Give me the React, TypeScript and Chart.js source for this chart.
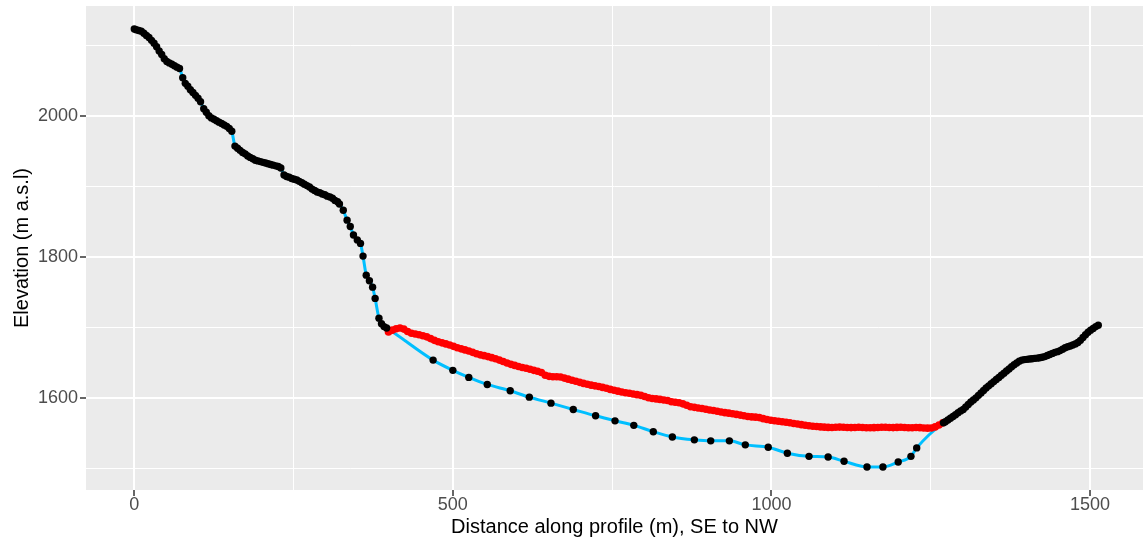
import React, { useEffect, useRef } from "react";
import { Chart, registerables } from "chart.js";

Chart.register(...registerables);

// ---------- Data ----------
// Ground surface, SE side (black points)
const leftSurfaceX = [0, 3, 7, 11, 15, 19, 23, 27, 31, 35, 39, 43, 47, 51, 55, 59, 63, 67, 71, 76, 80, 84, 88, 92, 96, 100, 104, 109, 113, 117, 121, 125, 129, 133, 137, 141, 145, 149, 153, 158, 162, 166, 170, 174, 178, 182, 186, 190, 194, 198, 202, 206, 210, 214, 218, 222, 226, 230, 235, 239, 243, 247, 251, 255, 259, 263, 267, 271, 275, 279, 283, 287, 291, 295, 299, 303, 307, 311, 315, 319, 322, 328, 334, 339, 344, 350, 355, 359, 364, 369, 374, 378, 384, 388, 392, 396];
const leftSurfaceY = [2123, 2122, 2121, 2120, 2117, 2114, 2111, 2107, 2103, 2098, 2092, 2087, 2081, 2077, 2075, 2073, 2071, 2069, 2067, 2054, 2046, 2042, 2037, 2033, 2029, 2025, 2020, 2010, 2005, 2000, 1997, 1995, 1993, 1991, 1989, 1987, 1985, 1982, 1978, 1957, 1954, 1951, 1948, 1946, 1943, 1941, 1939, 1937, 1936, 1935, 1934, 1933, 1932, 1931, 1930, 1929, 1928, 1926, 1916, 1914, 1913, 1911, 1910, 1909, 1907, 1905, 1903, 1901, 1899, 1896, 1894, 1892, 1891, 1889, 1888, 1886, 1885, 1883, 1880, 1878, 1875, 1866, 1852, 1843, 1831, 1824, 1819, 1801, 1774, 1766, 1757, 1741, 1713, 1705, 1701, 1699];

// Glacier bed (black points)
const bedX = [469, 500, 525, 554, 590, 620, 654, 689, 724, 754.5, 784, 814.6, 844.5, 879, 904.7, 934, 959, 995, 1025, 1059, 1089, 1114, 1150, 1175, 1199, 1219, 1228];
const bedY = [1653.5, 1639, 1629, 1619, 1610, 1601, 1592.5, 1583.5, 1574.5, 1567.4, 1561, 1552, 1544.5, 1540.4, 1539, 1539, 1533.3, 1530, 1521.5, 1517, 1516, 1510, 1502, 1502, 1509, 1517, 1529];

// Ground surface, NW side (black points)
const rightSurfaceX = [1270, 1273, 1277, 1281, 1285, 1289, 1293, 1297, 1301, 1305, 1309, 1313, 1317, 1321, 1325, 1329, 1333, 1337, 1341, 1345, 1349, 1353, 1357, 1361, 1365, 1369, 1373, 1377, 1381, 1385, 1389, 1393, 1397, 1401, 1405, 1409, 1413, 1417, 1421, 1425, 1429, 1433, 1437, 1441, 1445, 1449, 1453, 1457, 1461, 1465, 1469, 1473, 1477, 1481, 1485, 1489, 1493, 1497, 1501, 1505, 1509, 1513];
const rightSurfaceY = [1564.5, 1566, 1568.5, 1571, 1573.5, 1576, 1579, 1581.5, 1583.5, 1587, 1590.5, 1594, 1597, 1600, 1603.5, 1607, 1610.5, 1614, 1617, 1620, 1623, 1626, 1629, 1632, 1635, 1638, 1641, 1644, 1647, 1649.5, 1652, 1653.5, 1654.2, 1654.6, 1655, 1655.5, 1656, 1656.3, 1656.8, 1657.5, 1658.5, 1660, 1661.5, 1663, 1664.5, 1665.5, 1667, 1669, 1671, 1672.5, 1673.5, 1675, 1676.5, 1678.5, 1681.5, 1685.5, 1689.5, 1693, 1696, 1698.5, 1701, 1703];

// Glacier surface (red points)
const glacierX = [399, 405, 411, 417, 423, 429, 435, 441, 447, 453, 459, 465, 471, 477, 483, 489, 495, 501, 507, 513, 519, 525, 531, 537, 543, 549, 555, 561, 567, 573, 579, 585, 591, 597, 603, 609, 615, 621, 627, 633, 639, 645, 651, 657, 663, 669, 675, 681, 687, 693, 699, 705, 711, 717, 723, 729, 735, 741, 747, 753, 759, 765, 771, 777, 783, 789, 795, 801, 807, 813, 819, 825, 831, 837, 843, 849, 855, 861, 867, 873, 879, 885, 891, 897, 903, 909, 915, 921, 927, 933, 939, 945, 951, 957, 963, 969, 975, 981, 987, 993, 999, 1005, 1011, 1017, 1023, 1029, 1035, 1041, 1047, 1053, 1059, 1065, 1071, 1077, 1083, 1089, 1095, 1101, 1107, 1113, 1119, 1125, 1131, 1137, 1143, 1149, 1155, 1161, 1167, 1173, 1179, 1185, 1191, 1197, 1203, 1209, 1215, 1221, 1227, 1233, 1239, 1245, 1251, 1257, 1263, 1269];
const glacierY = [1693.5, 1696, 1698, 1699, 1697.5, 1694, 1691.5, 1690.5, 1689.5, 1688, 1686.5, 1684, 1681.5, 1679.5, 1678, 1676.5, 1675, 1673, 1671, 1669.5, 1668, 1666.5, 1664.5, 1662.5, 1661, 1659.8, 1658.5, 1657, 1655.5, 1653.5, 1651.5, 1649.5, 1647.5, 1646, 1644.5, 1643, 1642, 1640.5, 1639, 1637.8, 1636, 1632, 1630.5, 1630, 1630, 1629.5, 1628, 1626.5, 1625, 1623.5, 1622, 1620.5, 1619.2, 1618, 1617, 1616, 1614.8, 1613.5, 1612, 1610.8, 1609.5, 1608.2, 1607.2, 1606.5, 1605.5, 1604.5, 1603.5, 1602, 1600.2, 1599, 1598.5, 1597.8, 1597, 1596.2, 1594.5, 1593.8, 1593, 1591.5, 1589.5, 1587.3, 1586.5, 1585.6, 1584.8, 1583.8, 1582.8, 1582, 1581, 1580, 1579, 1578.3, 1577.5, 1576.5, 1575.5, 1574.5, 1573.6, 1573, 1572.6, 1572, 1570.5, 1569.3, 1568.3, 1567.5, 1566.8, 1566, 1565.3, 1564.6, 1563.7, 1562.8, 1562, 1561.2, 1560.4, 1559.8, 1559.3, 1558.8, 1558.4, 1558.1, 1558, 1558.3, 1558.5, 1558.2, 1558, 1557.8, 1558, 1558.2, 1557.9, 1557.6, 1557.5, 1557.7, 1558, 1558.2, 1558.3, 1558, 1557.8, 1558.1, 1558.3, 1557.9, 1557.5, 1557.6, 1557.9, 1557.7, 1557.3, 1557, 1557.2, 1558.8, 1561.5, 1564.5];

// Axis settings
const xTitle = "Distance along profile (m), SE to NW";
const yTitle = "Elevation (m a.s.l)";
const xMin = -75.8;
const xMax = 1583.2;
const yMin = 1469.3;
const yMax = 2155.7;
const xMajorStep = 500;
const xMinorStep = 250;
const yMajorStep = 200;
const yMinorStep = 100;

const toPoints = (xs: number[], ys: number[]) => xs.map((x, i) => ({ x, y: ys[i] }));

const FONT = "'Liberation Sans', Arial, Helvetica, sans-serif";

const panelBackground = {
  id: "panelBackground",
  beforeDraw(chart: any) {
    const { ctx, chartArea } = chart;
    if (!chartArea) return;
    ctx.save();
    ctx.fillStyle = "#EBEBEB";
    ctx.fillRect(chartArea.left, chartArea.top, chartArea.right - chartArea.left, chartArea.bottom - chartArea.top);
    ctx.restore();
  },
};

const zeroPadding = (s: any) => {
  s.paddingLeft = 0;
  s.paddingRight = 0;
  s.paddingTop = 0;
  s.paddingBottom = 0;
};

export default function App() {
  const canvasRef = useRef<HTMLCanvasElement | null>(null);

  useEffect(() => {
    document.body.style.margin = "0";
    const canvas = canvasRef.current;
    if (!canvas) return;

    const profileX = [...leftSurfaceX, ...bedX, ...rightSurfaceX];
    const profileY = [...leftSurfaceY, ...bedY, ...rightSurfaceY];

    const isMajor = (v: number, step: number) => Math.abs(v / step - Math.round(v / step)) < 1e-6;

    const chart = new Chart(canvas, {
      type: "scatter",
      data: {
        datasets: [
          {
            label: "profile",
            data: toPoints(profileX, profileY),
            showLine: true,
            borderColor: "#00BFFF",
            borderWidth: 3,
            pointRadius: 0,
            cubicInterpolationMode: "monotone",
            order: 3,
          } as any,
          {
            label: "glacier surface",
            data: toPoints(glacierX, glacierY),
            backgroundColor: "#FF0000",
            borderWidth: 0,
            pointRadius: 3.8,
            order: 2,
          },
          {
            label: "measured points",
            data: toPoints(profileX, profileY),
            backgroundColor: "#000000",
            borderWidth: 0,
            pointRadius: 3.7,
            order: 1,
          },
        ],
      },
      options: {
        responsive: false,
        animation: false,
        devicePixelRatio: 1,
        layout: { autoPadding: false, padding: { top: 6, left: 0, right: 0, bottom: 0 } },
        plugins: {
          legend: { display: false },
          tooltip: { enabled: false },
        },
        scales: {
          x: {
            type: "linear",
            position: "bottom",
            min: xMin,
            max: xMax,
            border: { display: false },
            grid: {
              color: "#FFFFFF",
              lineWidth: (c: any) => (c.tick && isMajor(c.tick.value, xMajorStep) ? 2 : 1),
              drawTicks: true,
              tickLength: 6,
              tickWidth: 1.5,
              tickColor: (c: any) => (c.tick && isMajor(c.tick.value, xMajorStep) ? "#333333" : "rgba(0,0,0,0)"),
            },
            ticks: {
              stepSize: xMinorStep,
              includeBounds: false,
              autoSkip: false,
              maxRotation: 0,
              padding: 0,
              color: "#4D4D4D",
              font: { family: FONT, size: 18, lineHeight: 1 },
              callback: (v: any) => (isMajor(Number(v), xMajorStep) ? String(v) : ""),
            },
            title: {
              display: true,
              text: xTitle,
              color: "#000000",
              font: { family: FONT, size: 20 },
              padding: { top: 0, bottom: 5 },
            },
            afterFit: (s: any) => {
              s.height = 54;
              zeroPadding(s);
            },
          },
          y: {
            type: "linear",
            position: "left",
            min: yMin,
            max: yMax,
            border: { display: false },
            grid: {
              color: "#FFFFFF",
              lineWidth: (c: any) => (c.tick && isMajor(c.tick.value, yMajorStep) ? 2 : 1),
              drawTicks: true,
              tickLength: 6,
              tickWidth: 1.5,
              tickColor: (c: any) => (c.tick && isMajor(c.tick.value, yMajorStep) ? "#333333" : "rgba(0,0,0,0)"),
            },
            ticks: {
              stepSize: yMinorStep,
              includeBounds: false,
              autoSkip: false,
              padding: 2,
              color: "#4D4D4D",
              font: { family: FONT, size: 18, lineHeight: 1 },
              callback: (v: any) => (isMajor(Number(v), yMajorStep) ? String(v) : ""),
            },
            title: {
              display: true,
              text: yTitle,
              color: "#000000",
              font: { family: FONT, size: 20 },
              padding: { top: 10, bottom: 0 },
            },
            afterFit: (s: any) => {
              s.width = 86;
              zeroPadding(s);
            },
          },
        },
      },
      plugins: [panelBackground],
    });

    return () => {
      chart.destroy();
    };
  }, []);

  return (
    <div style={{ width: 1143, height: 544, background: "#FFFFFF" }}>
      <canvas ref={canvasRef} width={1143} height={544} style={{ display: "block", width: 1143, height: 544 }} />
    </div>
  );
}
